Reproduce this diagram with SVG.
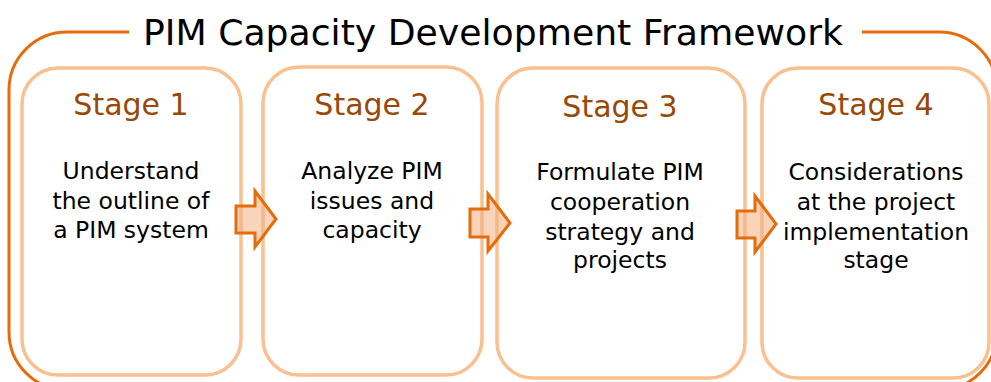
<svg xmlns="http://www.w3.org/2000/svg" width="991" height="382" viewBox="0 0 991 382">
<style>
.frame{fill:none;stroke:#E46C0A;stroke-width:3}
.box{fill:#fff;stroke:#FAC090;stroke-width:3.5}
.stage{font-family:"DejaVu Sans",Verdana,sans-serif;font-size:30px;fill:#984807;text-anchor:middle}
.body{font-family:"DejaVu Sans",Verdana,sans-serif;font-size:23.5px;fill:#000;text-anchor:middle}
.title{font-family:"DejaVu Sans",Verdana,sans-serif;font-size:35px;fill:#000;text-anchor:middle}
.arrow{fill:#F4B183;fill-opacity:0.55;stroke:#E46C0A;stroke-width:3;stroke-linejoin:miter}
</style>
<rect width="991" height="382" fill="#fff"/>
<g id="frame">
<rect class="frame" x="9" y="32" width="988" height="358" rx="58"/>
<rect x="129" y="20" width="733" height="24" fill="#fff"/>
<text class="title" x="493" y="45" textLength="700" lengthAdjust="spacingAndGlyphs">PIM Capacity Development Framework</text>
</g>
<g id="stage1">
<rect class="box" x="22" y="68" width="219" height="307" rx="36"/>
<text class="stage" x="131" y="115">Stage 1</text>
<text class="body" x="131" y="179">Understand</text>
<text class="body" x="131" y="209">the outline of</text>
<text class="body" x="131" y="238">a PIM system</text>
</g>
<g id="stage2">
<rect class="box" x="263" y="67" width="219" height="308" rx="36"/>
<text class="stage" x="372" y="115">Stage 2</text>
<text class="body" x="372" y="179">Analyze PIM</text>
<text class="body" x="372" y="209">issues and</text>
<text class="body" x="372" y="238">capacity</text>
</g>
<g id="stage3">
<rect class="box" x="497" y="68" width="248" height="310" rx="36"/>
<text class="stage" x="620" y="117">Stage 3</text>
<text class="body" x="620" y="180">Formulate PIM</text>
<text class="body" x="620" y="210">cooperation</text>
<text class="body" x="620" y="240">strategy and</text>
<text class="body" x="620" y="268">projects</text>
</g>
<g id="stage4">
<rect class="box" x="762" y="68" width="227" height="310" rx="36"/>
<text class="stage" x="876" y="115">Stage 4</text>
<text class="body" x="876" y="180">Considerations</text>
<text class="body" x="876" y="210">at the project</text>
<text class="body" x="876" y="240">implementation</text>
<text class="body" x="876" y="268">stage</text>
</g>
<g id="connectors">
<polygon class="arrow" points="236,206 255,206 255,191 276,219 255,247 255,233 236,233"/>
<polygon class="arrow" points="470,209 488,209 488,194 510,223 488,251 488,237 470,237"/>
<polygon class="arrow" points="737,211 755,211 755,196 776,224 755,252 755,238 737,238"/>
</g>
</svg>
